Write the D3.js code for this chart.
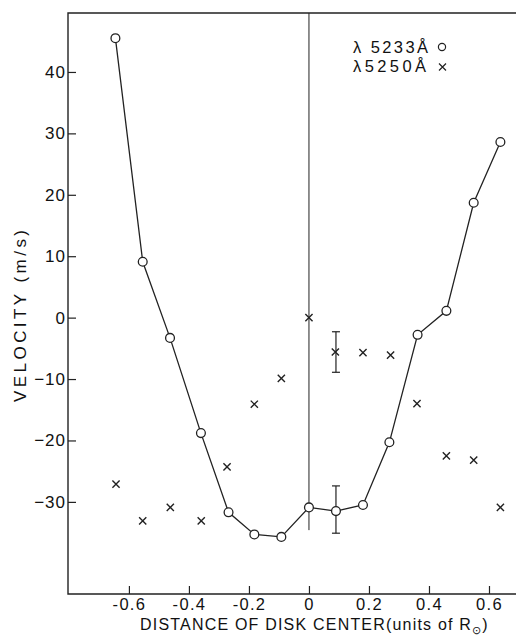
<!DOCTYPE html>
<html lang="en">
<head>
<meta charset="utf-8">
<title>Velocity vs distance of disk center</title>
<script src="https://cdnjs.cloudflare.com/ajax/libs/d3/7.8.5/d3.min.js"></script>
<style>
  body { margin: 0; background: #fff; }
  text { font-family: "Liberation Sans", Arial, sans-serif; fill: #111; }
</style>
</head>
<body>
<div id="chart"></div>
<script>
// distance of disk center (units of solar radius)
const dist5233 = [-0.645, -0.554, -0.463, -0.36, -0.268, -0.182, -0.092, 0, 0.09, 0.18, 0.268, 0.362, 0.458, 0.549, 0.638]
const vel5233 = [45.5, 9.1, -3.3, -18.8, -31.7, -35.3, -35.7, -30.9, -31.5, -30.5, -20.3, -2.8, 1.1, 18.7, 28.6]

const dist5250 = [-0.643, -0.554, -0.462, -0.359, -0.273, -0.182, -0.092, 0, 0.088, 0.18, 0.272, 0.36, 0.458, 0.549, 0.638]
const vel5250 = [-27.1, -33.1, -30.9, -33.1, -24.3, -14.1, -9.9, 0, -5.6, -5.7, -6.1, -14, -22.5, -23.2, -30.9]

// error bars at x = 0.09
const errDist = 0.09
const err5233 = [-35.1, -27.4]
const err5250 = [-8.9, -2.3]

const xTicks = [-0.6, -0.4, -0.2, 0, 0.2, 0.4, 0.6]
const yTicks = [-30, -20, -10, 0, 10, 20, 30, 40]

const width = 516
const height = 639
const mLeft = 68, mRight = 519, mTop = 13, mBottom = 594

const svg = d3.select("#chart").append("svg")
  .attr("width", width)
  .attr("height", height)

const x = d3.scaleLinear().domain([-0.803, 0.7]).range([mLeft, mRight])
const y = d3.scaleLinear().domain([-45, 49.6]).range([mBottom, mTop])

// axes with inward ticks
const xAxis = svg.append("g")
  .attr("transform", `translate(0,${mBottom})`)
  .call(d3.axisBottom(x).tickValues(xTicks).tickSizeInner(-8).tickSizeOuter(0).tickPadding(4)
    .tickFormat(d => d === 0 ? "0" : d.toFixed(1)))
xAxis.select(".domain").remove()
xAxis.selectAll("line").attr("stroke", "#222").attr("stroke-width", 1.2)
xAxis.selectAll("text").attr("font-size", 16.5).attr("letter-spacing", 1.3).attr("fill", "#111")

const yAxis = svg.append("g")
  .attr("transform", `translate(${mLeft},0)`)
  .call(d3.axisLeft(y).tickValues(yTicks).tickSizeInner(-8).tickSizeOuter(0).tickPadding(2))
yAxis.select(".domain").remove()
yAxis.selectAll("line").attr("stroke", "#222").attr("stroke-width", 1.2)
yAxis.selectAll("text").attr("font-size", 17).attr("letter-spacing", 1).attr("fill", "#111")

// frame: left, top, bottom (right edge is cut off)
svg.append("path")
  .attr("d", `M${mRight},${mTop}H${mLeft}V${mBottom}H${mRight}`)
  .attr("fill", "none")
  .attr("stroke", "#222")
  .attr("stroke-width", 1.4)

// vertical line at disk center
svg.append("line")
  .attr("x1", x(0)).attr("x2", x(0))
  .attr("y1", mTop).attr("y2", y(-34.6))
  .attr("stroke", "#222").attr("stroke-width", 1)

// error bars
function errorBar(lo, hi) {
  const g = svg.append("g").attr("stroke", "#222").attr("stroke-width", 1.2)
  g.append("line").attr("x1", x(errDist)).attr("x2", x(errDist)).attr("y1", y(lo)).attr("y2", y(hi))
  g.append("line").attr("x1", x(errDist) - 4).attr("x2", x(errDist) + 4).attr("y1", y(lo)).attr("y2", y(lo))
  g.append("line").attr("x1", x(errDist) - 4).attr("x2", x(errDist) + 4).attr("y1", y(hi)).attr("y2", y(hi))
}
errorBar(err5233[0], err5233[1])
errorBar(err5250[0], err5250[1])

// 5233 line + circles
const pts5233 = dist5233.map((d, i) => [d, vel5233[i]])
svg.append("path")
  .datum(pts5233)
  .attr("d", d3.line().x(d => x(d[0])).y(d => y(d[1])))
  .attr("fill", "none")
  .attr("stroke", "#222")
  .attr("stroke-width", 1.3)

svg.append("g").selectAll("circle")
  .data(pts5233)
  .join("circle")
    .attr("cx", d => x(d[0]))
    .attr("cy", d => y(d[1]))
    .attr("r", 4.4)
    .attr("fill", "#fff")
    .attr("stroke", "#222")
    .attr("stroke-width", 1.3)

// 5250 crosses
const pts5250 = dist5250.map((d, i) => [d, vel5250[i]])
const cross = 3.6
svg.append("g").selectAll("path")
  .data(pts5250)
  .join("path")
    .attr("d", d => {
      const cx = x(d[0]), cy = y(d[1])
      return `M${cx - cross},${cy - cross}L${cx + cross},${cy + cross}M${cx - cross},${cy + cross}L${cx + cross},${cy - cross}`
    })
    .attr("stroke", "#222")
    .attr("stroke-width", 1.4)

// legend
const legend = svg.append("g")
legend.append("text").attr("x", 353).attr("y", 52.5).attr("font-size", 16.5)
  .attr("textLength", 75).attr("lengthAdjust", "spacing").text("λ 5233Å")
legend.append("text").attr("x", 353).attr("y", 71.5).attr("font-size", 16.5)
  .attr("textLength", 73).attr("lengthAdjust", "spacing").text("λ5250Å")
legend.append("circle").attr("cx", 442).attr("cy", 47).attr("r", 3.6)
  .attr("fill", "#fff").attr("stroke", "#222").attr("stroke-width", 1.2)
legend.append("path")
  .attr("d", "M439,63.5L446,70.5M439,70.5L446,63.5")
  .attr("stroke", "#222").attr("stroke-width", 1.2)

// axis titles
svg.append("text")
  .attr("transform", "translate(26,316) rotate(-90)")
  .attr("text-anchor", "middle")
  .attr("font-size", 17)
  .attr("textLength", 172)
  .attr("lengthAdjust", "spacing")
  .text("VELOCITY (m/s)")

const xt = svg.append("text")
  .attr("x", 140)
  .attr("y", 630)
  .attr("font-size", 16)
  .attr("letter-spacing", 1.2)
xt.append("tspan").text("DISTANCE OF DISK CENTER(units of R")
xt.append("tspan").attr("font-size", 10.5).attr("dy", 3.5).text("⊙")
xt.append("tspan").attr("dy", -3.5).text(")")
</script>
</body>
</html>
